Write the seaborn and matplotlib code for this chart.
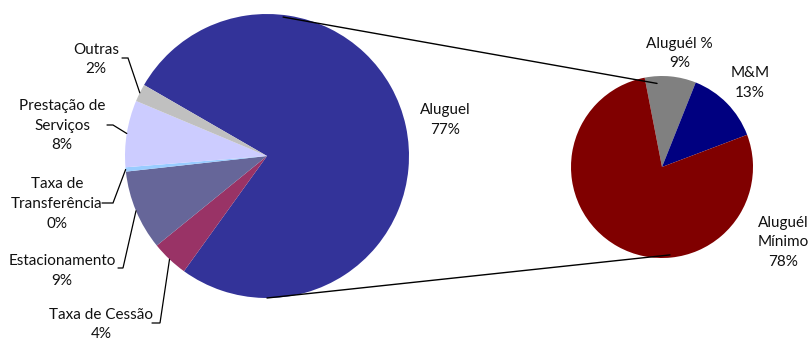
import numpy as np
import matplotlib
matplotlib.use("Agg")
import matplotlib.pyplot as plt
import seaborn as sns

# ---- data ----
main_names = ["Aluguel", "Taxa de Cessão", "Estacionamento", "Taxa de\nTransferência",
              "Prestação de\nServiços", "Outras"]
main_values = [76.6, 4.2, 9.1, 0.49, 7.6, 2.0]
main_colors = ["#333399", "#993366", "#666699", "#99CCFF", "#CCCCFF", "#C0C0C0"]

sub_names = ["Aluguél %", "M&M", "Aluguél\nMínimo"]
sub_values = [9.1, 13.2, 77.7]
sub_colors = ["#808080", "#000080", "#800000"]

sns.set_theme(style="white")
plt.rcParams['font.family'] = ['Lato', 'DejaVu Sans']

W, H = 808, 340
fig = plt.figure(figsize=(W / 100, H / 100), dpi=100)
ax = fig.add_axes([0, 0, 1, 1])

c1, r1 = (267, 184), 142
c2, r2 = (662, 173), 91

w1, _ = ax.pie(main_values, colors=main_colors, startangle=150, counterclock=False,
               center=c1, radius=r1, wedgeprops=dict(linewidth=0))
w2, _ = ax.pie(sub_values, colors=sub_colors, startangle=101, counterclock=False,
               center=c2, radius=r2, wedgeprops=dict(linewidth=0))

ax.set_xlim(0, W)
ax.set_ylim(0, H)
ax.axis('off')

fs = 11
txt = dict(ha='center', va='center', multialignment='center', fontsize=fs,
           linespacing=1.5, color='#111111')

def Y(py):
    return H - py

# label layout (pixel coords, top origin): text centre, leader start x, elbow x, leader y
main_layout = [
    ((445, 120), None),
    ((101, 324.5), (152, 160, 323)),
    ((62, 271), (118, 123, 268)),
    ((57, 204), (102, 113, 203)),
    ((62, 125.7), (107, 113, 125)),
    ((96, 59.5), (122, 128, 58)),
]
for wedge, name, val, (tc, lead) in zip(w1, main_names, main_values, main_layout):
    ax.text(tc[0], Y(tc[1]), f"{name}\n{round(val):.0f}%", **txt)
    if lead is not None:
        mid = np.deg2rad((wedge.theta1 + wedge.theta2) / 2)
        ex = c1[0] + r1 * np.cos(mid)
        ey = c1[1] + r1 * np.sin(mid)
        ax.plot([lead[0], lead[1], ex], [Y(lead[2]), Y(lead[2]), ey],
                color='black', lw=0.9, solid_joinstyle='miter')

sub_layout = [(679.5, 53.5), (750, 83), (783, 242)]
for name, val, tc in zip(sub_names, sub_values, sub_layout):
    ax.text(tc[0], Y(tc[1]), f"{name}\n{round(val):.0f}%", **txt)

# connector lines between the two pies
conn = [((83.4, 0.985), (93.4, 0.92)), ((270.0, 1.0), (-84.8, 0.97))]
for (a1, f1), (a2, f2) in conn:
    x1 = c1[0] + r1 * f1 * np.cos(np.deg2rad(a1))
    y1 = c1[1] + r1 * f1 * np.sin(np.deg2rad(a1))
    x2 = c2[0] + r2 * f2 * np.cos(np.deg2rad(a2))
    y2 = c2[1] + r2 * f2 * np.sin(np.deg2rad(a2))
    ax.plot([x1, x2], [y1, y2], color='black', lw=1.0)

fig.savefig("out.png", dpi=100)
